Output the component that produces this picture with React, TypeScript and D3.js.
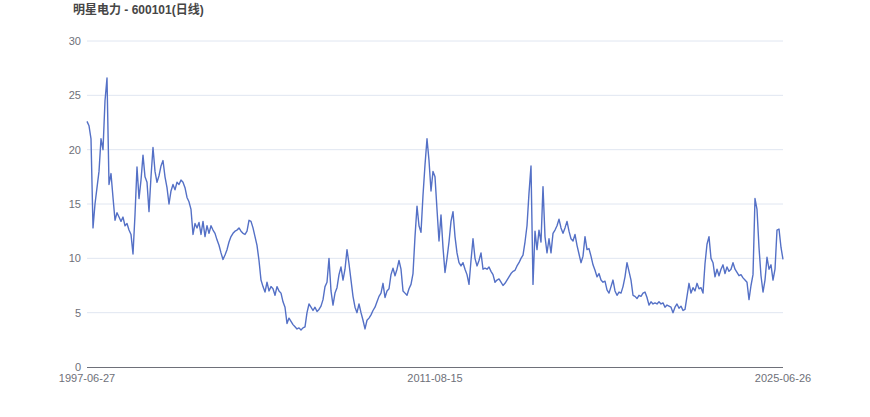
import React from "react";
import * as d3 from "d3";

const title = "明星电力 - 600101(日线)";
const yTicks = [0, 5, 10, 15, 20, 25, 30];
const xTickLabels = ["1997-06-27", "2011-08-15", "2025-06-26"];

// Daily close prices, sampled evenly across 1997-06-27 .. 2025-06-26
const closes = [
  22.6, 22.2, 21.0, 12.8, 15.0, 16.5, 18.0, 21.0, 20.0, 24.5,
  26.6, 16.8, 17.8, 15.6, 13.5, 14.2, 13.8, 13.4, 13.8, 13.0,
  13.2, 12.6, 12.2, 10.4, 14.0, 18.4, 15.5, 17.2, 19.5, 17.5,
  17.0, 14.3, 17.5, 20.2, 18.0, 17.0, 17.6, 18.5, 19.0, 17.5,
  16.5, 15.0, 16.2, 16.8, 16.3, 17.0, 16.8, 17.2, 17.0, 16.5,
  15.6, 15.2, 14.5, 12.2, 13.2, 12.8, 13.3, 12.2, 13.4, 12.0,
  13.0, 12.3, 13.0, 12.6, 12.3, 11.7, 11.2, 10.5, 9.9, 10.3,
  10.8, 11.5, 12.0, 12.3, 12.5, 12.6, 12.8, 12.5, 12.3, 12.2,
  12.5, 13.5, 13.4, 12.8, 12.0, 11.2, 9.8, 8.0, 7.4, 6.9,
  7.8, 7.0, 7.4, 7.2, 6.6, 7.4, 7.0, 6.8, 6.0, 5.5,
  4.0, 4.5, 4.2, 3.9, 3.7, 3.5, 3.6, 3.4, 3.6, 3.7,
  5.0, 5.8, 5.5, 5.2, 5.5, 5.1, 5.3, 5.6, 6.2, 7.4,
  7.8, 10.0, 7.0, 5.7, 6.8, 7.3, 8.5, 9.2, 8.0, 9.0,
  10.8, 9.5, 8.0, 6.5, 5.5, 5.0, 5.8, 5.0, 4.3, 3.5,
  4.3, 4.5, 4.8, 5.2, 5.5, 6.0, 6.5, 6.8, 7.7, 6.4,
  7.0, 7.2, 8.5, 9.1, 8.4, 9.0, 9.8, 9.0, 7.0, 6.8,
  6.6, 7.2, 7.6, 8.6, 12.0, 14.8, 13.0, 12.4, 15.8, 18.6,
  21.0, 19.0, 16.2, 18.0, 17.5, 14.5, 11.6, 14.0, 11.0, 8.7,
  10.0, 11.5, 13.4, 14.3, 12.0, 10.5, 9.6, 9.3, 9.6, 9.0,
  8.5, 7.6, 9.8, 11.8, 10.0, 9.3, 9.8, 10.5, 9.0, 9.1,
  9.0, 9.2, 8.8, 8.5, 7.8, 8.0, 8.1, 7.8, 7.5, 7.7,
  8.0, 8.3, 8.6, 8.8, 8.9, 9.3, 9.6, 10.0, 10.3, 11.5,
  13.0, 16.0, 18.5, 7.6, 12.5, 10.8, 12.6, 11.5, 16.6, 12.0,
  10.5, 11.8, 10.5, 12.3, 12.6, 13.0, 13.6, 12.8, 12.3, 12.8,
  13.4, 12.5, 11.8, 11.6, 12.2, 11.2, 10.4, 9.6, 10.2, 12.0,
  10.8, 10.9, 10.2, 9.4, 8.9, 8.3, 8.6, 8.0, 7.8, 7.9,
  7.1, 6.8, 7.4, 8.0, 7.0, 6.6, 6.9, 6.8, 7.4, 8.3,
  9.6, 8.8, 8.0, 6.6, 6.5, 6.3, 6.6, 6.5, 6.8, 6.9,
  6.4, 5.7, 6.0, 5.8, 5.9, 5.8, 6.0, 5.8, 5.9, 5.5,
  5.7, 5.6, 5.5, 5.0, 5.5, 5.8, 5.4, 5.6, 5.2, 5.3,
  6.5, 7.7, 6.8, 7.3, 7.0, 7.7, 7.2, 7.3, 6.8, 9.5,
  11.3, 12.0, 10.0, 9.6, 8.3, 9.0, 8.4, 9.0, 9.4, 8.6,
  9.2, 8.8, 9.0, 9.6, 9.0, 8.7, 8.4, 8.5, 8.2, 8.0,
  7.8, 6.2, 7.5, 8.5, 15.5, 14.5, 11.0, 8.4, 6.9, 8.0,
  10.1, 9.0, 9.4, 8.0, 9.0, 12.6, 12.7, 11.0, 9.9,
];

const W = 870;
const H = 417;
const left = 87;
const right = 783;
const top = 41;
const bottom = 367;

const font = "'Liberation Sans', Arial, 'Noto Sans CJK SC', sans-serif";

export default function App() {
  const n = closes.length;
  const x = d3.scaleLinear().domain([0, n - 1]).range([left, right]);
  const y = d3.scaleLinear().domain([0, 30]).range([bottom, top]);
  const line = d3
    .line<number>()
    .x((_, i) => x(i))
    .y((d) => y(d));
  const xTickIdx = [0, (n - 1) / 2, n - 1];

  return (
    <div style={{ position: "absolute", left: 0, top: 0 }}>
      <svg width={W} height={H} style={{ display: "block" }}>
        <rect width={W} height={H} fill="#fff" />
        <text
          x={73}
          y={14}
          fontFamily={font}
          fontSize={12}
          fontWeight="bold"
          fill="#464646"
        >
          {title}
        </text>
        {yTicks.map((t) => (
          <g key={t}>
            {t !== 0 && (
              <line
                x1={left}
                x2={right}
                y1={y(t)}
                y2={y(t)}
                stroke="#E0E6F1"
                strokeWidth={1}
              />
            )}
            <text
              x={81}
              y={y(t)}
              dy="0.35em"
              textAnchor="end"
              fontFamily={font}
              fontSize={11}
              fill="#6E7079"
            >
              {t}
            </text>
          </g>
        ))}
        <line
          x1={left}
          x2={right}
          y1={bottom + 0.5}
          y2={bottom + 0.5}
          stroke="#6E7079"
          strokeWidth={1}
        />
        {xTickLabels.map((lab, i) => (
          <text
            key={lab}
            x={x(xTickIdx[i])}
            y={382}
            textAnchor="middle"
            fontFamily={font}
            fontSize={11}
            fill="#6E7079"
          >
            {lab}
          </text>
        ))}
        <path
          d={line(closes) || ""}
          fill="none"
          stroke="#5470C6"
          strokeWidth={1.4}
          strokeLinejoin="round"
        />
      </svg>
    </div>
  );
}
